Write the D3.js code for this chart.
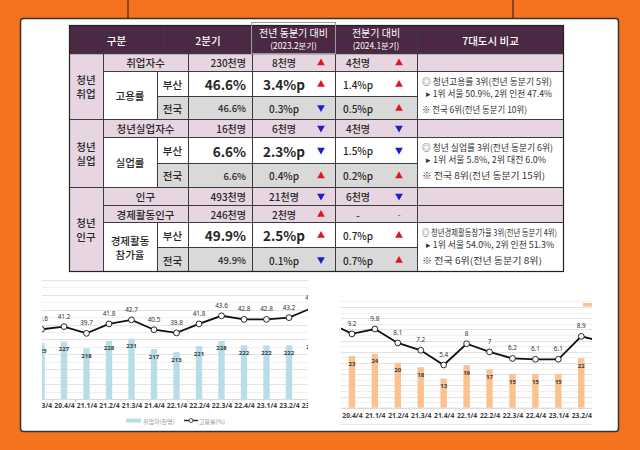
<!DOCTYPE html>
<html><head><meta charset="utf-8">
<script src="https://cdn.jsdelivr.net/npm/d3@7"></script>
<style>
html,body{margin:0;padding:0;background:#f5731f;}
svg{display:block;font-family:"Noto Sans CJK KR","Noto Sans",sans-serif;}
</style></head>
<body>
<script>
// ---------- DATA ----------
const headers = ["구분", "2분기", "전년 동분기 대비|(2023.2분기)", "전분기 대비|(2024.1분기)", "7대도시 비교"];
const groups = ["청년|취업", "청년|실업", "청년|인구"];
const groupRowCounts = [3, 3, 4];
const indicators = ["취업자수", "고용률", "고용률", "청년실업자수", "실업률", "실업률", "인구", "경제활동인구", "경제활동|참가율", "경제활동|참가율"];
const regions = ["", "부산", "전국", "", "부산", "전국", "", "", "부산", "전국"];
const q2Values = ["230천명", "46.6%", "46.6%", "16천명", "6.6%", "6.6%", "493천명", "246천명", "49.9%", "49.9%"];
const yoyValues = ["8천명", "3.4%p", "0.3%p", "6천명", "2.3%p", "0.4%p", "21천명", "2천명", "2.5%p", "0.1%p"];
const yoyDir = ["up", "up", "down", "down", "down", "up", "down", "up", "up", "down"];
const qoqValues = ["4천명", "1.4%p", "0.5%p", "4천명", "1.5%p", "0.2%p", "6천명", "-", "0.7%p", "0.7%p"];
const qoqDir = ["up", "up", "up", "down", "down", "up", "down", "-", "up", "up"];
const cityNotes = [
  ["◎ 청년고용률 3위(전년 동분기 5위)", "▸ 1위 서울 50.9%, 2위 인천 47.4%", "※ 전국 6위(전년 동분기 10위)"],
  ["◎ 청년 실업률 3위(전년 동분기 6위)", "▸ 1위 서울 5.8%, 2위 대전 6.0%", "※ 전국 8위(전년 동분기 15위)"],
  ["◎ 청년경제활동참가율 3위(전년 동분기 4위)", "▸ 1위 서울 54.0%, 2위 인천 51.3%", "※ 전국 6위(전년 동분기 8위)"]
];

const quarters = ["20.3/4", "20.4/4", "21.1/4", "21.2/4", "21.3/4", "21.4/4", "22.1/4", "22.2/4", "22.3/4", "22.4/4", "23.1/4", "23.2/4", "23.3/4"];
const employed = [225, 227, 218, 228, 231, 217, 213, 221, 228, 222, 222, 222, 230];
const employmentRate = [40.6, 41.2, 39.7, 41.8, 42.7, 40.5, 39.8, 41.8, 43.6, 42.8, 42.8, 43.2, 45.3];
const unemployed = [25, 23, 24, 20, 18, 13, 19, 17, 15, 15, 15, 22, 17];
const unemploymentRate = [10.6, 9.2, 9.8, 8.1, 7.2, 5.4, 8, 7, 6.2, 6.1, 6.1, 8.9, 8.2];
const legendLeft = ["취업자(천명)", "고용률(%)"];

// ---------- SETUP ----------
const W = 640, H = 450;
const svg = d3.select("body").append("svg").attr("width", W).attr("height", H);
svg.append("rect").attr("width", W).attr("height", H).attr("fill", "#f5731f");
[128, 513].forEach(x => svg.append("line").attr("x1", x).attr("x2", x).attr("y1", 0).attr("y2", 19)
  .attr("stroke", "#6e3a22").attr("stroke-width", 1.6));
svg.append("rect").attr("x", 20.5).attr("y", 18.5).attr("width", 598).attr("height", 413).attr("rx", 3)
  .attr("fill", "#fff").attr("stroke", "#333").attr("stroke-width", 1.5);

// ---------- TABLE ----------
const T = svg.append("g");
const C = {c1: 69, c2: 103, c3: 157, c4: 188, c5: 252, c6: 335, c7: 417, end: 564};
const hdrX = [69, 164, 252, 335, 417, 564];
const hTop = 25, hBot = 53;
const rowY = [53, 71, 96, 119, 137, 163, 187, 205, 222, 247, 272];
const noteWidths = [[130, 126, 105], [131, 120, 123], [135, 128, 120]];
const PINK = "#e7d5e1", GRAY = "#d9d9d9", HEAD = "#4b2843", LINE = "#3c3c3c", TXT = "#262626";

T.append("rect").attr("x", C.c1).attr("y", hTop).attr("width", C.end - C.c1).attr("height", hBot - hTop).attr("fill", HEAD);

regions.forEach((r, i) => {
  const y0 = rowY[i], y1 = rowY[i + 1];
  if (r === "") {
    T.append("rect").attr("x", C.c2).attr("y", y0).attr("width", C.end - C.c2).attr("height", y1 - y0).attr("fill", PINK);
  } else {
    T.append("rect").attr("x", C.c3).attr("y", y0).attr("width", C.c7 - C.c3).attr("height", y1 - y0).attr("fill", r === "전국" ? GRAY : "#fff");
    if (r === "부산") {
      T.append("rect").attr("x", C.c2).attr("y", y0).attr("width", C.c3 - C.c2).attr("height", rowY[i + 2] - y0).attr("fill", "#fff");
      T.append("rect").attr("x", C.c7).attr("y", y0).attr("width", C.end - C.c7).attr("height", rowY[i + 2] - y0).attr("fill", "#fff");
    }
  }
});
let gStart = 0;
const groupBounds = groupRowCounts.map(n => { const b = [gStart, gStart + n]; gStart += n; return b; });
groupBounds.forEach(([a, b]) => {
  T.append("rect").attr("x", C.c1).attr("y", rowY[a]).attr("width", C.c2 - C.c1).attr("height", rowY[b] - rowY[a]).attr("fill", PINK);
});

const ln = (x1, y1, x2, y2, w) => T.append("line").attr("x1", x1).attr("y1", y1).attr("x2", x2).attr("y2", y2)
  .attr("stroke", LINE).attr("stroke-width", w || 1);
hdrX.slice(1, -1).forEach(x => ln(x + .5, hTop, x + .5, hBot));
[C.c2, C.c4, C.c5, C.c6, C.c7].forEach(x => ln(x + .5, hBot, x + .5, rowY[rowY.length - 1]));
regions.forEach((r, i) => { if (r !== "") ln(C.c3 + .5, rowY[i], C.c3 + .5, rowY[i + 1]); });
ln(C.c1, hBot + .5, C.end, hBot + .5, 1.3);
for (let k = 1; k < rowY.length - 1; k++) {
  const y = rowY[k] + .5;
  const groupEdge = groupBounds.some(([a]) => a === k);
  if (regions[k] === "전국") ln(C.c3, y, C.c7, y);
  else if (groupEdge) ln(C.c1, y, C.end, y);
  else ln(C.c2, y, C.end, y);
}
T.append("rect").attr("x", C.c1 + .5).attr("y", hTop + .5).attr("width", C.end - C.c1 - 1).attr("height", rowY[rowY.length - 1] - hTop - 1)
  .attr("fill", "none").attr("stroke", "#222").attr("stroke-width", 1.2);
T.append("rect").attr("x", 251.5).attr("y", 22.5).attr("width", 84).attr("height", 31).attr("fill", "none").attr("stroke", "#9a9a9a").attr("stroke-width", 1);

headers.forEach((h, j) => {
  const cx = (hdrX[j] + hdrX[j + 1]) / 2;
  const parts = h.split("|");
  if (parts.length === 1) {
    T.append("text").attr("x", cx).attr("y", (hTop + hBot) / 2 + 1).attr("text-anchor", "middle").attr("dominant-baseline", "central")
      .attr("fill", "#fff").attr("font-size", 10.5).attr("font-weight", 500).text(parts[0]);
  } else {
    T.append("text").attr("x", cx).attr("y", 32).attr("text-anchor", "middle").attr("dominant-baseline", "central")
      .attr("fill", "#fff").attr("font-size", 10).text(parts[0]);
    T.append("text").attr("x", cx).attr("y", 44.8).attr("text-anchor", "middle").attr("dominant-baseline", "central")
      .attr("fill", "#fff").attr("font-size", 8.4).text(parts[1]);
  }
});

groups.forEach((g, k) => {
  const [a, b] = groupBounds[k];
  const cy = (rowY[a] + rowY[b]) / 2;
  g.split("|").forEach((s, m) => T.append("text").attr("x", (C.c1 + C.c2) / 2).attr("y", cy - 7 + m * 14)
    .attr("text-anchor", "middle").attr("dominant-baseline", "central").attr("fill", TXT).attr("font-size", 10.5).attr("font-weight", 500).text(s));
});

const tri = (x, y, dir) => {
  if (dir === "-") {
    T.append("text").attr("x", x).attr("y", y).attr("text-anchor", "middle").attr("dominant-baseline", "central")
      .attr("fill", "#555").attr("font-size", 9).text("-");
    return;
  }
  T.append("path").attr("d", d3.symbol(d3.symbolTriangle, 26)())
    .attr("transform", `translate(${x},${y + (dir === "up" ? 0.5 : -0.5)}) rotate(${dir === "up" ? 0 : 180})`)
    .attr("fill", dir === "up" ? "#e3141c" : "#1c1cd0");
};

regions.forEach((r, i) => {
  const y0 = rowY[i], y1 = rowY[i + 1], cy = (y0 + y1) / 2 + 0.5;
  const big = r === "부산";
  const fsV = big ? 13.5 : (r === "전국" ? 9.5 : 10);
  const fw = big ? "bold" : 500;
  if (r === "") {
    T.append("text").attr("x", (C.c2 + C.c4) / 2).attr("y", cy).attr("text-anchor", "middle").attr("dominant-baseline", "central")
      .attr("fill", TXT).attr("font-size", 10.5).attr("font-weight", 500).text(indicators[i]);
  } else {
    T.append("text").attr("x", (C.c3 + C.c4) / 2).attr("y", cy).attr("text-anchor", "middle").attr("dominant-baseline", "central")
      .attr("fill", TXT).attr("font-size", 10.5).attr("font-weight", 500).text(r);
    if (r === "부산") {
      const my = (y0 + rowY[i + 2]) / 2;
      const parts = indicators[i].split("|");
      parts.forEach((s, m) => T.append("text").attr("x", (C.c2 + C.c3) / 2).attr("y", my + (m - (parts.length - 1) / 2) * 14)
        .attr("text-anchor", "middle").attr("dominant-baseline", "central").attr("fill", TXT).attr("font-size", 10.5).attr("font-weight", 500).text(s));
      const ni = [1, 4, 8].indexOf(i);
      const notes = cityNotes[ni];
      [10, 22.5, 38.5].forEach((dy, m) => {
        T.append("text").attr("x", m === 1 ? 426 : 422).attr("y", y0 + dy).attr("dominant-baseline", "central")
          .attr("fill", "#333").attr("font-size", 9)
          .attr("textLength", noteWidths[ni][m]).attr("lengthAdjust", "spacingAndGlyphs").text(notes[m]);
      });
    }
  }
  T.append("text").attr("x", 246).attr("y", cy).attr("text-anchor", "end").attr("dominant-baseline", "central")
    .attr("fill", TXT).attr("font-size", fsV).attr("font-weight", fw).text(q2Values[i]);
  T.append("text").attr("x", 284).attr("y", cy).attr("text-anchor", "middle").attr("dominant-baseline", "central")
    .attr("fill", TXT).attr("font-size", big ? 13.5 : 10).attr("font-weight", fw).text(yoyValues[i]);
  tri(321, cy, yoyDir[i]);
  T.append("text").attr("x", 358).attr("y", cy).attr("text-anchor", "middle").attr("dominant-baseline", "central")
    .attr("fill", TXT).attr("font-size", 10).attr("font-weight", 500).text(qoqValues[i]);
  tri(399, cy, qoqDir[i]);
});

// ---------- CHARTS ----------
function drawChart(opt) {
  const g = svg.append("g");
  const cid = "clip" + opt.id;
  svg.append("clipPath").attr("id", cid).append("rect").attr("x", opt.x0).attr("y", 270).attr("width", opt.x1 - opt.x0).attr("height", 160);
  const cg = g.append("g").attr("clip-path", `url(#${cid})`);
  const x = d3.scalePoint().domain(quarters).range(opt.xRange);
  const yB = d3.scaleLinear().domain(opt.barDomain).range(opt.barRange);
  const yL = d3.scaleLinear().domain(opt.lineDomain).range(opt.lineRange);
  d3.range(opt.barRange[0], opt.gridTop - 0.1, -opt.gridStep).forEach((yy, k) => {
    cg.append("line").attr("x1", opt.x0).attr("x2", opt.x1).attr("y1", Math.round(yy) + .5).attr("y2", Math.round(yy) + .5)
      .attr("stroke", k % 2 ? "#f0f0f0" : "#e3e3e3").attr("stroke-width", 1);
  });
  const ax = cg.append("g").attr("transform", `translate(0,${opt.barRange[0]})`)
    .call(d3.axisBottom(x).tickSize(0).tickPadding(opt.labelPad));
  ax.select(".domain").attr("stroke", "#d9d9d9");
  ax.selectAll("text").attr("font-size", 6.8).attr("font-weight", "bold").attr("fill", "#404040").attr("font-family", "'Noto Sans', sans-serif");
  const step = x.step();
  quarters.forEach(q => cg.append("line").attr("x1", x(q) + step / 2).attr("x2", x(q) + step / 2)
    .attr("y1", opt.barRange[0]).attr("y2", opt.barRange[0] + 3).attr("stroke", "#d9d9d9"));
  if (opt.bottomLine) cg.append("line").attr("x1", opt.x0).attr("x2", opt.x1).attr("y1", opt.bottomLine + .5).attr("y2", opt.bottomLine + .5).attr("stroke", "#e6e6e6");
  cg.selectAll(".bar").data(opt.bars).join("rect")
    .attr("x", (d, i) => x(quarters[i]) - 3.2).attr("width", 6.4)
    .attr("y", d => yB(d)).attr("height", d => yB(opt.barDomain[0]) - yB(d)).attr("fill", opt.barColor);
  cg.selectAll(".bl").data(opt.bars).join("text")
    .attr("x", (d, i) => x(quarters[i])).attr("y", d => yB(d) + 7.5).attr("text-anchor", "middle").attr("dominant-baseline", "central")
    .attr("font-size", 6).attr("font-weight", "bold").attr("fill", "#3a3a3a").attr("font-family", "'Noto Sans', sans-serif").text(d => d);
  cg.append("path").datum(opt.line).attr("fill", "none").attr("stroke", "#111").attr("stroke-width", 1.8)
    .attr("d", d3.line().x((d, i) => x(quarters[i])).y(d => yL(d)));
  cg.selectAll(".pt").data(opt.line).join("circle")
    .attr("cx", (d, i) => x(quarters[i])).attr("cy", d => yL(d)).attr("r", 2.9)
    .attr("fill", "#fff").attr("stroke", "#111").attr("stroke-width", 0.9);
  cg.selectAll(".ll").data(opt.line).join("text")
    .attr("x", (d, i) => x(quarters[i])).attr("y", d => yL(d) - 10.5).attr("text-anchor", "middle").attr("dominant-baseline", "central")
    .attr("font-size", 6.4).attr("fill", "#333").attr("font-family", "'Noto Sans', sans-serif").text(d => d);
  return {g, cg};
}

const left = drawChart({
  id: "L", x0: 42, x1: 308, xRange: [41.5, 311.5],
  barDomain: [150, 310], barRange: [399, 279.8], lineDomain: [30, 50], lineRange: [377, 287],
  gridTop: 279, gridStep: 7.45, labelPad: 4, bars: employed, line: employmentRate, barColor: "#b7dde8"
});
left.g.append("rect").attr("x", 126).attr("y", 418.5).attr("width", 15).attr("height", 4).attr("fill", "#b7dde8");
left.g.append("text").attr("x", 143).attr("y", 421).attr("dominant-baseline", "central").attr("font-size", 6).attr("fill", "#9a9a9a").text(legendLeft[0]);
left.g.append("line").attr("x1", 184).attr("x2", 198).attr("y1", 420.5).attr("y2", 420.5).attr("stroke", "#222").attr("stroke-width", 1.4);
left.g.append("circle").attr("cx", 191).attr("cy", 420.5).attr("r", 2).attr("fill", "#fff").attr("stroke", "#222").attr("stroke-width", 0.8);
left.g.append("text").attr("x", 199).attr("y", 421).attr("dominant-baseline", "central").attr("font-size", 6).attr("fill", "#9a9a9a").text(legendLeft[1]);

const right = drawChart({
  id: "R", x0: 341, x1: 592, xRange: [329, 604.2],
  barDomain: [0, 50], barRange: [407.7, 295.45], lineDomain: [0, 12], lineRange: [409.2, 311],
  gridTop: 296, gridStep: 5.6, labelPad: 5, bottomLine: 424, bars: unemployed, line: unemploymentRate, barColor: "#fbc290"
});
right.g.append("rect").attr("x", 583).attr("y", 303).attr("width", 9).attr("height", 3.5).attr("fill", "#fbc290");
</script>
</body></html>
